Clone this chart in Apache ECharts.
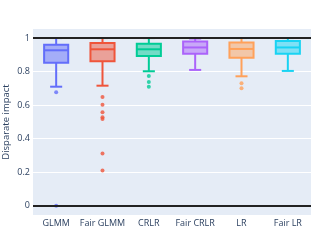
<!DOCTYPE html>
<html><head><meta charset="utf-8">
<script src="https://cdn.jsdelivr.net/npm/echarts@6/dist/echarts.min.js"></script>
<style>html,body{margin:0;padding:0;background:#fff}#c{width:335px;height:240px}</style>
</head><body><div id="c"></div>
<script>
var categories = ['GLMM', 'Fair GLMM', 'CRLR', 'Fair CRLR', 'LR', 'Fair LR'];
// [lowerWhisker, q1, median, q3, upperWhisker]
var boxStats = [
  [0.710, 0.853, 0.927, 0.960, 1.0],
  [0.716, 0.861, 0.933, 0.970, 1.0],
  [0.802, 0.893, 0.933, 0.966, 1.0],
  [0.810, 0.907, 0.944, 0.980, 0.997],
  [0.772, 0.883, 0.935, 0.974, 1.0],
  [0.804, 0.907, 0.944, 0.982, 1.0]
];
var outliers = [
  [0.677, 0.0],
  [0.649, 0.603, 0.558, 0.528, 0.518, 0.311, 0.210],
  [0.774, 0.738, 0.710],
  [],
  [0.730, 0.700],
  []
];
var colors = ['#636efa', '#EF553B', '#00cc96', '#ab63fa', '#FFA15A', '#19d3f3'];
var yTicks = [0, 0.2, 0.4, 0.6, 0.8, 1];
var refLines = [0, 1];

function hexA(hex, a) {
  var n = parseInt(hex.slice(1), 16);
  return 'rgba(' + ((n >> 16) & 255) + ',' + ((n >> 8) & 255) + ',' + (n & 255) + ',' + a + ')';
}

var boxData = boxStats.map(function (s, i) { return [i].concat(s); });
var outData = [];
outliers.forEach(function (arr, i) { arr.forEach(function (v) { outData.push({ value: [i, v], itemStyle: { color: colors[i] } }); }); });

var chart = echarts.init(document.getElementById('c'), null, { renderer: 'canvas' });
chart.setOption({
  animation: false,
  backgroundColor: '#fff',
  grid: { left: 33, right: 24, top: 29, bottom: 25, show: true, backgroundColor: '#E5ECF6', borderWidth: 0,
    containLabel: false, outerBoundsMode: 'none' },
  xAxis: {
    type: 'category', data: categories,
    axisLine: { show: false }, axisTick: { show: false },
    axisLabel: { interval: 0, color: '#2a3f5f', fontFamily: 'Open Sans', fontSize: 9, margin: 4 },
    splitLine: { show: false }
  },
  yAxis: {
    type: 'value', min: -0.055, max: 1.054,
    name: 'Disparate impact', nameLocation: 'middle', nameGap: 22, nameMoveOverlap: false,
    nameTextStyle: { color: '#2a3f5f', fontFamily: 'Open Sans', fontSize: 9.5 },
    axisLine: { show: false },
    axisTick: { show: false, customValues: yTicks },
    axisLabel: { customValues: yTicks, color: '#2a3f5f', fontFamily: 'Open Sans', fontSize: 9, margin: 3,
      formatter: function (v) { return String(+v.toFixed(2)); } },
    splitLine: { show: true, lineStyle: { color: '#ffffff', width: 1 } }
  },
  series: [
    {
      type: 'custom',
      data: boxData,
      encode: { x: 0, y: [1, 2, 3, 4, 5] },
      renderItem: function (params, api) {
        var i = api.value(0);
        var c = colors[i];
        var band = api.size([1, 0])[0];
        var bw = band * 0.52, cw = bw * 0.5;
        var cx = api.coord([i, 0])[0];
        var yLo = api.coord([i, api.value(1)])[1];
        var yQ1 = api.coord([i, api.value(2)])[1];
        var yMd = api.coord([i, api.value(3)])[1];
        var yQ3 = api.coord([i, api.value(4)])[1];
        var yHi = api.coord([i, api.value(5)])[1];
        var ls = { stroke: c, lineWidth: 2 };
        return {
          type: 'group',
          children: [
            { type: 'line', shape: { x1: cx, y1: yQ1, x2: cx, y2: yLo }, style: ls },
            { type: 'line', shape: { x1: cx, y1: yQ3, x2: cx, y2: yHi }, style: ls },
            { type: 'line', shape: { x1: cx - cw / 2, y1: yLo, x2: cx + cw / 2, y2: yLo }, style: ls },
            { type: 'line', shape: { x1: cx - cw / 2, y1: yHi, x2: cx + cw / 2, y2: yHi }, style: ls },
            { type: 'rect', shape: { x: cx - bw / 2, y: yQ3, width: bw, height: yQ1 - yQ3 },
              style: { fill: hexA(c, 0.5), stroke: c, lineWidth: 2 } },
            { type: 'line', shape: { x1: cx - bw / 2, y1: yMd, x2: cx + bw / 2, y2: yMd }, style: ls }
          ]
        };
      },
      z: 2
    },
    {
      type: 'scatter', data: outData, symbolSize: 4, z: 3,
      markLine: {
        silent: true, symbol: 'none', label: { show: false },
        lineStyle: { color: '#222', width: 2, type: 'solid' },
        data: refLines.map(function (v) { return { yAxis: v }; })
      }
    }
  ]
});
</script></body></html>
